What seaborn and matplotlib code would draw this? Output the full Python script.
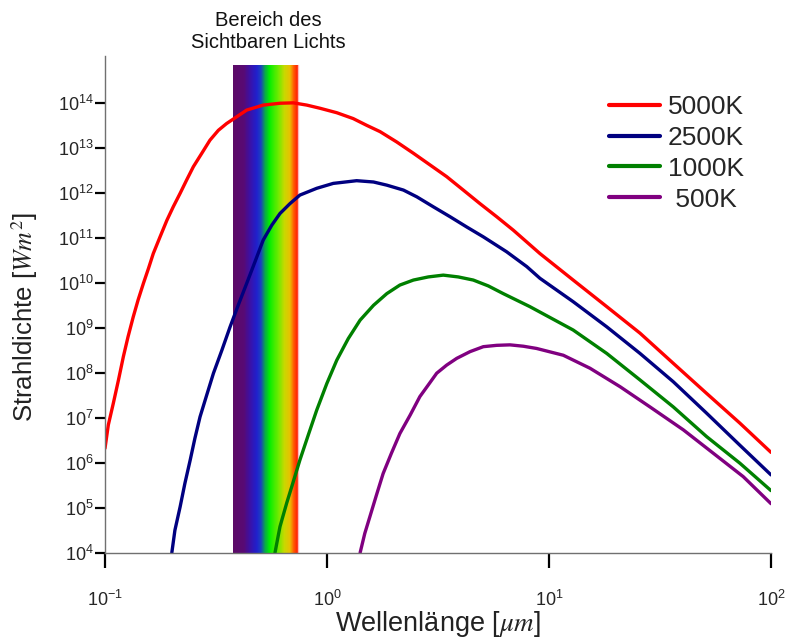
import numpy as np
import pandas as pd
import matplotlib
matplotlib.use("Agg")
import matplotlib.pyplot as plt
from matplotlib.colors import LinearSegmentedColormap
from matplotlib.ticker import FixedLocator, NullLocator, FuncFormatter
import seaborn as sns

# Spectral radiance curves: wavelength in µm, radiance in W m^-2
lam_5000 = [0.100, 0.1035, 0.109, 0.115, 0.121, 0.127, 0.134, 0.141, 0.149, 0.157,
            0.165, 0.177, 0.190, 0.203, 0.218, 0.233, 0.250, 0.273, 0.297, 0.324,
            0.353, 0.392, 0.435, 0.516, 0.614, 0.705, 0.811, 0.929, 1.107, 1.312,
            1.510, 1.734, 2.061, 2.449, 2.911, 3.459, 4.111, 4.887, 5.808, 6.902,
            9.10, 12.85, 18.2, 25.7, 36.3, 51.3, 72.4, 100.0]
rad_5000 = [2.09e6, 6.92e6, 2.09e7, 6.92e7, 2.29e8, 6.31e8, 1.74e9, 4.17e9, 9.77e9, 2.09e10,
            4.47e10, 1.05e11, 2.45e11, 4.90e11, 9.77e11, 1.91e12, 3.80e12, 7.59e12, 1.48e13, 2.45e13,
            3.47e13, 4.90e13, 6.92e13, 8.91e13, 9.8e13, 1.0e14, 8.91e13, 7.59e13, 6.03e13, 4.47e13,
            3.16e13, 2.29e13, 1.35e13, 7.59e12, 4.17e12, 2.29e12, 1.15e12, 5.75e11, 2.95e11, 1.48e11,
            4.47e10, 1.15e10, 2.95e9, 7.59e8, 1.62e8, 3.47e7, 7.59e6, 1.70e6]

lam_2500 = [0.200, 0.2065, 0.218, 0.229, 0.242, 0.254, 0.268, 0.287, 0.308, 0.336,
            0.366, 0.398, 0.435, 0.474, 0.516, 0.564, 0.614, 0.681, 0.755, 0.899,
            1.067, 1.36, 1.62, 1.86, 2.21, 2.54, 3.01, 3.58, 4.26, 5.06,
            6.44, 7.94, 9.10, 12.85, 18.2, 25.7, 36.3, 51.3, 72.4, 100.0]
rad_2500 = [1.0e4, 3.16e4, 1.05e5, 3.47e5, 1.15e6, 3.47e6, 1.05e7, 3.16e7, 9.77e7, 3.16e8,
            1.05e9, 3.16e9, 9.77e9, 2.95e10, 8.91e10, 1.91e11, 3.47e11, 5.75e11, 8.91e11, 1.26e12,
            1.62e12, 1.86e12, 1.74e12, 1.48e12, 1.15e12, 8.13e11, 4.90e11, 2.95e11, 1.74e11, 1.05e11,
            4.90e10, 2.29e10, 1.26e10, 3.80e9, 1.05e9, 2.69e8, 6.31e7, 1.26e7, 2.45e6, 5.37e5]

lam_1000 = [0.583, 0.614, 0.658, 0.705, 0.755, 0.824, 0.899, 0.998, 1.107, 1.247,
            1.41, 1.62, 1.86, 2.13, 2.45, 2.86, 3.34, 3.90, 4.56, 5.33,
            6.22, 8.20, 12.85, 18.2, 25.7, 36.3, 51.3, 72.4, 100.0]
rad_1000 = [1.0e4, 3.80e4, 1.26e5, 3.80e5, 1.15e6, 4.17e6, 1.48e7, 5.75e7, 1.91e8, 5.75e8,
            1.48e9, 3.16e9, 5.75e9, 8.91e9, 1.15e10, 1.35e10, 1.48e10, 1.35e10, 1.15e10, 8.51e9,
            5.75e9, 2.95e9, 8.91e8, 2.69e8, 6.92e7, 1.74e7, 3.80e6, 9.77e5, 2.40e5]

lam_500 = [1.41, 1.48, 1.56, 1.67, 1.79, 1.95, 2.13, 2.37, 2.62, 2.86,
           3.12, 3.46, 3.84, 4.41, 5.06, 5.81, 6.67, 7.66, 8.79, 11.6,
           15.3, 20.9, 28.5, 40.3, 55.0, 75.0, 100.0]
rad_500 = [1.0e4, 2.69e4, 6.31e4, 1.91e5, 5.75e5, 1.62e6, 4.47e6, 1.15e7, 2.95e7, 5.37e7,
           9.77e7, 1.48e8, 2.09e8, 2.95e8, 3.80e8, 4.07e8, 4.17e8, 3.89e8, 3.47e8, 2.45e8,
           1.26e8, 4.90e7, 1.74e7, 5.37e6, 1.62e6, 4.90e5, 1.23e5]

temperatures = ["5000K", "2500K", "1000K", " 500K"]
line_colors = ["#ff0000", "#000080", "#008000", "#800080"]

# Visible band (µm)
visible_lo, visible_hi = 0.378, 0.738

x_ticks = [0.1, 1, 10, 100]
y_ticks = [1e4, 1e5, 1e6, 1e7, 1e8, 1e9, 1e10, 1e11, 1e12, 1e13, 1e14]

sns.set_theme(style="white")
plt.rcParams["font.family"] = ["Liberation Sans", "DejaVu Sans"]
plt.rcParams["mathtext.fontset"] = "stix"

frames = []
for t, lam, rad in zip(temperatures,
                       [lam_5000, lam_2500, lam_1000, lam_500],
                       [rad_5000, rad_2500, rad_1000, rad_500]):
    frames.append(pd.DataFrame({"lam": lam, "rad": rad, "T": t}))
df = pd.concat(frames, ignore_index=True)

W, H = 791, 640
fig = plt.figure(figsize=(W / 100, H / 100), dpi=100)
ax = fig.add_axes([105 / W, 1 - 552.7 / H, (771 - 105) / W, (552.7 - 56) / H])
ax.set_xscale("log")
ax.set_yscale("log")
ax.set_xlim(0.1, 100)
ax.set_ylim(1e4, 1.1e15)

# Rainbow gradient marking the visible range
spectrum = LinearSegmentedColormap.from_list("spectrum", [
    (0.00, "#5c0a66"), (0.16, "#580a74"), (0.27, "#3812aa"), (0.36, "#2020cc"),
    (0.43, "#1a40c0"), (0.50, "#08b040"), (0.56, "#00ee00"), (0.70, "#70ea00"),
    (0.80, "#c8d800"), (0.88, "#e8c000"), (0.94, "#ff6000"), (1.00, "#ff2000")])
xe = np.geomspace(visible_lo, visible_hi, 200)
ye = np.array([1e4, 6.8e14])
cvals = np.linspace(0, 1, len(xe) - 1)[None, :]
ax.pcolormesh(xe, ye, cvals, cmap=spectrum, shading="flat", zorder=1, rasterized=True)
ax.plot([visible_hi, visible_hi], ye, color="#ffb8b8", lw=1.0, zorder=1.5)

sns.lineplot(data=df, x="lam", y="rad", hue="T", hue_order=temperatures,
             palette=dict(zip(temperatures, line_colors)), estimator=None,
             sort=False, linewidth=2.4, ax=ax, zorder=3)

for s in ["top", "right"]:
    ax.spines[s].set_visible(False)
for s in ["left", "bottom"]:
    ax.spines[s].set_color("#707070")
    ax.spines[s].set_linewidth(1.0)
    ax.spines[s].set_zorder(4)

fmt = FuncFormatter(lambda v, pos: r"$\mathregular{10^{%d}}$" % int(round(np.log10(v))))
ax.xaxis.set_major_locator(FixedLocator(x_ticks))
ax.yaxis.set_major_locator(FixedLocator(y_ticks))
ax.xaxis.set_minor_locator(NullLocator())
ax.yaxis.set_minor_locator(NullLocator())
ax.xaxis.set_major_formatter(fmt)
ax.yaxis.set_major_formatter(fmt)
ax.tick_params(axis="y", direction="out", length=7, width=1.6, color="black",
               pad=1, labelsize=13, left=True)
ax.tick_params(axis="x", direction="out", length=11, width=1.6, color="black",
               pad=16, labelsize=13, bottom=True)

ax.set_xlabel(r"Wellenlänge [$\mu m$]", fontsize=19.5, color="#222222")
ax.xaxis.set_label_coords(0.5, (552.7 - 624) / 496.7)
ax.xaxis.label.set_va("center")
ax.set_ylabel(r"Strahldichte [$Wm^{2}$]", fontsize=18.5, color="#222222")
ax.yaxis.set_label_coords((25 - 105) / 666, (552.7 - 317) / 496.7)
ax.yaxis.label.set_va("center")

fig.text(268 / W, 1 - 31.5 / H, "Bereich des\nSichtbaren Lichts", ha="center",
         va="center", fontsize=14.5, linespacing=1.15, color="#111111")

handles, labels = ax.get_legend_handles_labels()
for h in handles:
    h.set_linewidth(3)
ax.legend(handles, labels, loc="upper left", bbox_to_anchor=(609 / W, 1 - 95 / H),
          bbox_transform=fig.transFigure, frameon=False, fontsize=19,
          handlelength=1.95, handletextpad=0.28, labelspacing=0.26,
          borderpad=0, borderaxespad=0)

fig.savefig("out.png", dpi=100)
